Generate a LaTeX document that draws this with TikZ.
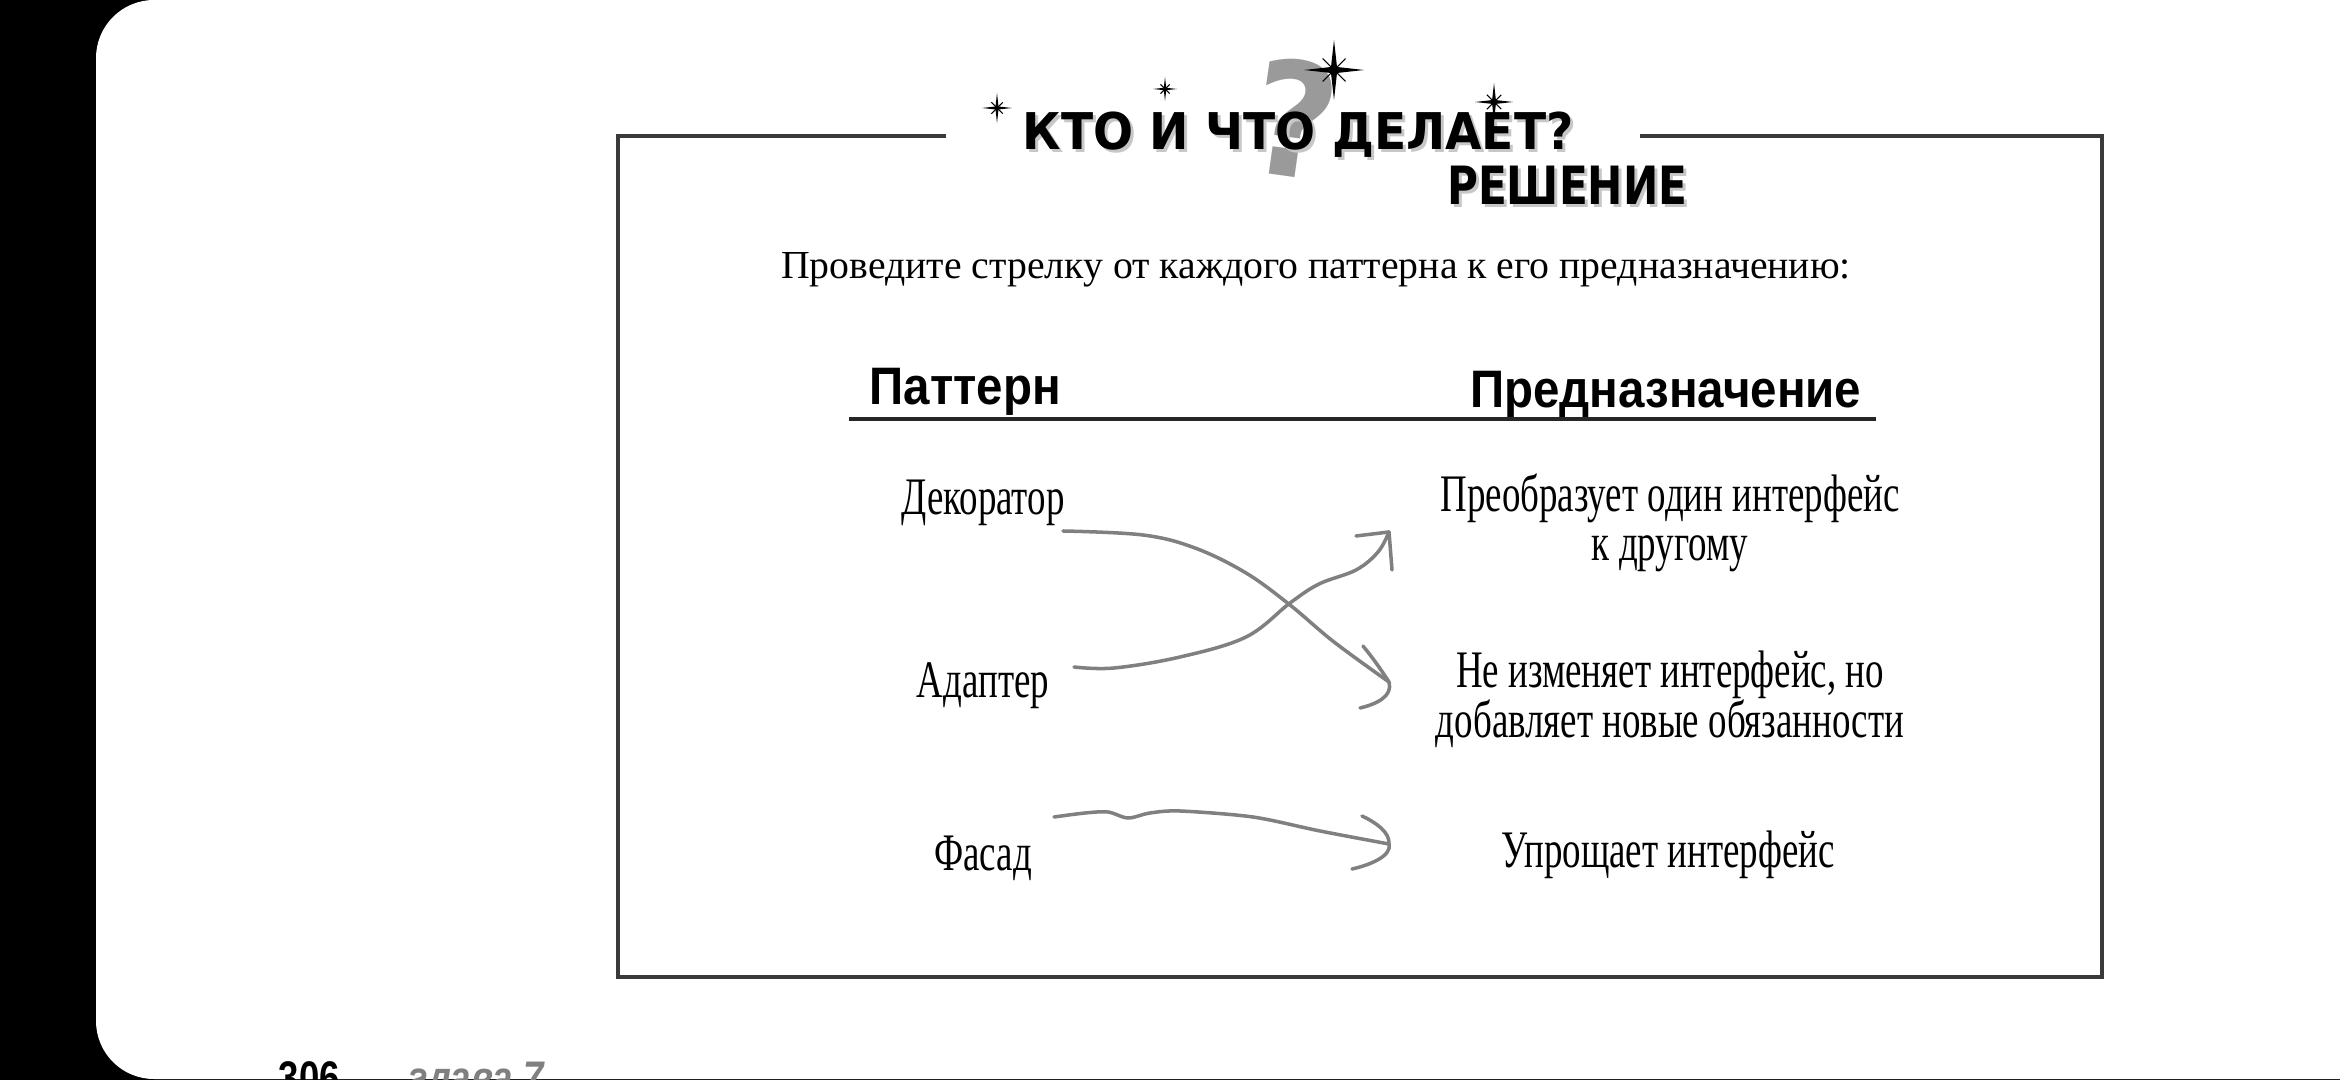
\documentclass[tikz,border=0pt]{standalone}
\usepackage{fontspec}
\setmainfont{Liberation Serif}
\setsansfont{Liberation Sans}
\newfontfamily\instrfont{Liberation Serif}
\newfontfamily\headfont{Liberation Sans}[FakeStretch=0.9]
\newfontfamily\handfont{Liberation Serif}[FakeStretch=0.7]
\newfontfamily\titlefont{DejaVu Sans}[FakeStretch=0.93]
\newfontfamily\solfont{DejaVu Sans}[FakeStretch=0.8]
\newfontfamily\pagefont{Liberation Sans}[FakeStretch=0.8]
\definecolor{framegray}{HTML}{3A3A3A}
\definecolor{arrowgray}{HTML}{808080}
\definecolor{qgray}{HTML}{9A9A9A}
\begin{document}
\begin{tikzpicture}[x=0.01cm,y=-0.01cm,
  hand/.style={font=\handfont\fontsize{15}{18}\selectfont, inner sep=0pt, anchor=base},
  arrowline/.style={draw=arrowgray, line width=1pt, line cap=round, line join=round},
  sparkle/.pic={
    \fill (0,-1) -- (0.1,-0.1) -- (1,0) -- (0.1,0.1) -- (0,1) -- (-0.1,0.1) -- (-1,0) -- (-0.1,-0.1) -- cycle;
    \draw[line width=0.3pt] (-0.38,-0.38) -- (0.38,0.38) (-0.38,0.38) -- (0.38,-0.38);
  }]
\useasboundingbox (0,0) rectangle (2340,1080);
\clip (0,0) rectangle (2340,1080);
% page background
\fill[black] (0,0) rectangle (2340,1080);
\fill[white, rounded corners=0.58cm] (96,0) rectangle (2440,1079);

% frame with a gap for the title
\draw[draw=framegray, line width=0.95pt] (946,136) -- (618,136) -- (618,977) -- (2102,977) -- (2102,136) -- (1640,136);

% title
\node[font=\titlefont\bfseries\fontsize{45}{50}\selectfont, text=qgray, inner sep=0pt, rotate=-8] (qm) at (1295,118) {?};
\node[anchor=base west, inner sep=0pt, text=black!22, font=\titlefont\bfseries\fontsize{14.4}{16}\selectfont] (titleshadow) at (1025,153) {КТО И ЧТО ДЕЛАЕТ?};
\node[anchor=base west, inner sep=0pt, font=\titlefont\bfseries\fontsize{14.4}{16}\selectfont] (title) at (1022,150) {КТО И ЧТО ДЕЛАЕТ?};
\node[anchor=base east, inner sep=0pt, text=black!22, font=\solfont\bfseries\fontsize{15}{17}\selectfont] (solshadow) at (1691,208) {РЕШЕНИЕ};
\node[anchor=base east, inner sep=0pt, font=\solfont\bfseries\fontsize{15}{17}\selectfont] (sol) at (1688,205) {РЕШЕНИЕ};
\pic[scale=15] at (997,108) {sparkle};
\pic[scale=12] at (1165,89) {sparkle};
\pic[scale=30] at (1334,70) {sparkle};
\pic[scale=19] at (1494,102) {sparkle};

% instruction
\node[anchor=base, inner sep=0pt, font=\instrfont\fontsize{11.3}{14}\selectfont] (instr) at (1316,279) {Проведите стрелку от каждого паттерна к его предназначению:};

% headers
\node[anchor=base west, inner sep=0pt, font=\headfont\bfseries\fontsize{15}{18}\selectfont] (hpat) at (869,405) {Паттерн};
\node[anchor=base east, inner sep=0pt, font=\headfont\bfseries\fontsize{15}{18}\selectfont] (hpur) at (1862,408) {Предназначение};
\draw[draw=black!85, line width=0.9pt] (849,419) -- (1876,419);

% patterns
\node[hand] (dec) at (983,515) {Декоратор};
\node[hand] (adp) at (983,698) {Адаптер};
\node[hand] (fac) at (983,870) {Фасад};

% purposes
\node[hand] (conv1) at (1670,512) {Преобразует один интерфейс};
\node[hand] (conv2) at (1670,561) {к другому};
\node[hand] (keep1) at (1670,688) {Не изменяет интерфейс, но};
\node[hand] (keep2) at (1670,738) {добавляет новые обязанности};
\node[hand] (simp) at (1668,867) {Упрощает интерфейс};

% connector ends
\coordinate (decS) at (1063,531);
\coordinate (decT) at (1389,682);
\coordinate (adpS) at (1074,667);
\coordinate (adpT) at (1389,532);
\coordinate (facS) at (1054,817);
\coordinate (facT) at (1389,844);

% Декоратор -> Не изменяет интерфейс
\draw[arrowline] plot[smooth, tension=0.6] coordinates {(decS) (1143,535) (1195,548) (1246,573) (1290,605) (1334,642) (decT)};
\draw[arrowline] (decT) .. controls (1380,668) and (1372,657) .. (1363,646);
\draw[arrowline] (decT) .. controls (1393,696) and (1377,704) .. (1360,708);

% Адаптер -> Преобразует
\draw[arrowline] plot[smooth, tension=0.6] coordinates {(adpS) (1114,668) (1180,657) (1246,637) (1290,603) (1319,584) (1356,570) (1378,552) (adpT)};
\draw[arrowline] (adpT) -- (1356,536);
\draw[arrowline] (adpT) -- (1392,570);

% Фасад -> Упрощает
\draw[arrowline] plot[smooth, tension=0.5] coordinates {(facS) (1085,813) (1108,812) (1128,818) (1150,813) (1180,811) (1253,817) (1320,831) (facT)};
\draw[arrowline] (facT) .. controls (1390,832) and (1375,822) .. (1362,816);
\draw[arrowline] (facT) .. controls (1392,856) and (1370,865) .. (1352,869);

% page footer
\node[anchor=base west, inner sep=0pt, font=\pagefont\bfseries\fontsize{13}{15}\selectfont] (pnum) at (278,1093) {306};
\node[anchor=base west, inner sep=0pt, text=arrowgray, font=\pagefont\bfseries\itshape\fontsize{13}{15}\selectfont] (chap) at (408,1093) {глава 7};
\end{tikzpicture}
\end{document}
